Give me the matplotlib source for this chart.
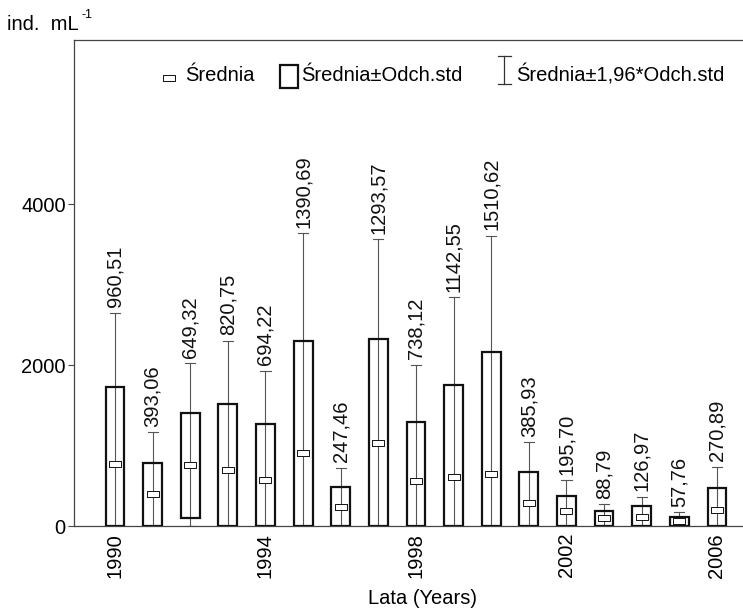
import matplotlib
matplotlib.use("Agg")
import matplotlib.pyplot as plt
from matplotlib.patches import Rectangle
from matplotlib.lines import Line2D
import numpy as np

plt.rcParams['font.family'] = ['Liberation Sans', 'DejaVu Sans']

# yearly abundance: mean and standard deviation (ind. mL-1)
years = list(range(1990, 2007))
means = [768, 395, 752, 690, 570, 910, 242, 1026, 558, 605, 648, 285, 183, 95, 117, 60, 205]
stds = [960.51, 393.06, 649.32, 820.75, 694.22, 1390.69, 247.46, 1293.57, 738.12,
        1142.55, 1510.62, 385.93, 195.70, 88.79, 126.97, 57.76, 270.89]
tick_years = [1990, 1994, 1998, 2002, 2006]

FS = 14.5
W, H = 743, 609
BOX_W = 0.5
CAP_W = 0.27
box_color = '#111111'
whisk_color = '#555555'

# rectangular mean marker, twice as wide as tall
mean_marker = [(-1, -0.5), (1, -0.5), (1, 0.5), (-1, 0.5), (-1, -0.5)]

fig = plt.figure(figsize=(W / 100, H / 100), dpi=100)


def px(x, y):
    """pixel position (from top-left) -> figure fraction"""
    return x / W, (H - y) / H


ax = fig.add_axes([74 / W, (H - 526) / H, (770 - 74) / W, (526 - 40) / H])

for yr, m, s in zip(years, means, stds):
    lo_box = max(m - s, 0)
    hi_box = m + s
    lo_w = max(m - 1.96 * s, 0)
    hi_w = m + 1.96 * s
    # whisker line and caps
    ax.plot([yr, yr], [lo_w, hi_w], color=whisk_color, lw=0.8, zorder=2)
    for yy in (lo_w, hi_w):
        ax.plot([yr - CAP_W / 2, yr + CAP_W / 2], [yy, yy], color=whisk_color, lw=0.8, zorder=2)
    # mean +/- std box
    ax.add_patch(Rectangle((yr - BOX_W / 2, lo_box), BOX_W, hi_box - lo_box,
                           fill=False, edgecolor=box_color, lw=1.6, zorder=3))
    # mean
    ax.plot(yr, m, marker=mean_marker, markersize=9, markerfacecolor='white',
            markeredgecolor=box_color, markeredgewidth=0.7, zorder=4)
    # std value above whisker
    ax.annotate(f"{s:.2f}".replace('.', ','), xy=(yr, hi_w), xytext=(0, 4),
                textcoords='offset points', rotation=90, ha='center', va='bottom',
                fontsize=FS, color='#111111')

ax.set_xlim(1988.91, 2007.41)
ax.set_ylim(0, 6040)
ax.set_yticks([0, 2000, 4000])
ax.set_xticks(tick_years)
ax.set_xticklabels([str(y) for y in tick_years], rotation=90, fontsize=FS)
ax.tick_params(axis='x', length=0, pad=5)
ax.tick_params(axis='y', direction='out', length=4, width=0.8, pad=2, labelsize=FS, color='#444444')
ax.spines['right'].set_visible(False)
for sp in ('left', 'top', 'bottom'):
    ax.spines[sp].set_color('#444444')
    ax.spines[sp].set_linewidth(0.9)
ax.set_xlabel('Lata (Years)', fontsize=FS, labelpad=8)

# unit label with a small raised exponent
fig.text(*px(7, 30), 'ind.  mL', fontsize=FS, va='baseline', ha='left')
fig.text(*px(82, 18), '-1', fontsize=9, va='baseline', ha='left')

# legend drawn by hand
mx, my = px(168.5, 78)
fig.add_artist(Line2D([mx], [my], marker=mean_marker, markersize=9, markerfacecolor='white',
                      markeredgecolor=box_color, markeredgewidth=0.7, transform=fig.transFigure))
fig.text(*px(185, 81), 'Średnia', fontsize=FS, va='baseline', ha='left')

bx0, by0 = px(280, 88)
bx1, by1 = px(298, 65)
fig.add_artist(Rectangle((bx0, by0), bx1 - bx0, by1 - by0, fill=False, edgecolor=box_color,
                         lw=1.6, transform=fig.transFigure))
fig.text(*px(301, 81), 'Średnia±Odch.std', fontsize=FS, va='baseline', ha='left')

wx, wy0 = px(504, 84)
_, wy1 = px(504, 56)
cl, _ = px(498, 0)
cr, _ = px(511, 0)
for seg in ([[wx, wx], [wy0, wy1]], [[cl, cr], [wy0, wy0]], [[cl, cr], [wy1, wy1]]):
    fig.add_artist(Line2D(seg[0], seg[1], color='#333333', lw=0.9, transform=fig.transFigure))
fig.text(*px(516.5, 81), 'Średnia±1,96*Odch.std', fontsize=FS, va='baseline', ha='left')

fig.savefig('out.png', dpi=100)
